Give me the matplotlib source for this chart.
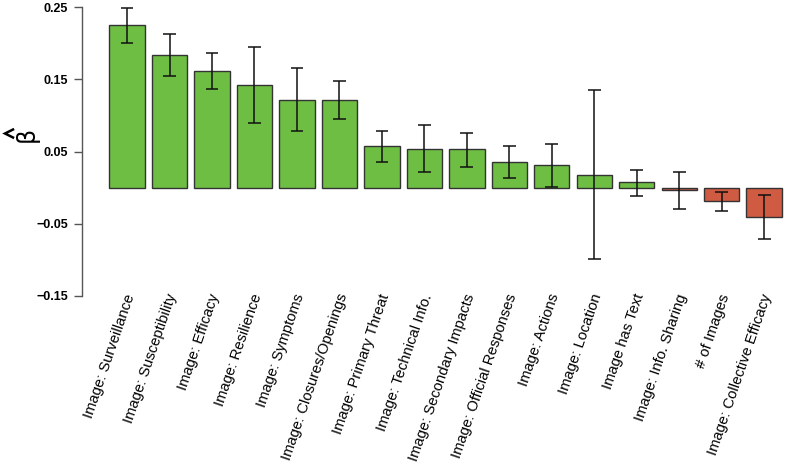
import matplotlib
matplotlib.use("Agg")
import matplotlib.pyplot as plt
import matplotlib.transforms as mtransforms
from matplotlib.lines import Line2D
import numpy as np

plt.rcParams['font.family'] = ['Liberation Sans', 'DejaVu Sans']

categories = ["Image: Surveillance", "Image: Susceptibility", "Image: Efficacy",
              "Image: Resilience", "Image: Symptoms", "Image: Closures/Openings",
              "Image: Primary Threat", "Image: Technical Info.", "Image: Secondary Impacts",
              "Image: Official Responses", "Image: Actions", "Image: Location",
              "Image has Text", "Image: Info. Sharing", "# of Images",
              "Image: Collective Efficacy"]
estimates = [0.225, 0.184, 0.161, 0.142, 0.121, 0.121, 0.057, 0.054, 0.053,
             0.036, 0.031, 0.018, 0.008, -0.003, -0.019, -0.041]
ci_upper = [0.248, 0.213, 0.186, 0.195, 0.165, 0.147, 0.078, 0.086, 0.075,
            0.057, 0.061, 0.135, 0.025, 0.022, -0.0065, -0.010]
ci_lower = [0.200, 0.154, 0.136, 0.090, 0.078, 0.095, 0.036, 0.022, 0.028,
            0.014, 0.001, -0.099, -0.011, -0.030, -0.032, -0.071]
yticks = [-0.15, -0.05, 0.05, 0.15, 0.25]

green = '#6EBE44'
red = '#D05B43'

W, H = 785, 470
fig = plt.figure(figsize=(W / 100, H / 100), dpi=100)
ax = fig.add_axes([82/W, 1-296/H, 1-82/W, (296-7)/H])

x = np.arange(len(categories))
est = np.array(estimates)
colors = [green if v >= 0 else red for v in est]
ax.bar(x, est, width=0.833, color=colors, edgecolor='#333333', linewidth=1.0, zorder=2)
ax.vlines(x, ci_lower, ci_upper, color='#111111', linewidth=1.1, zorder=3, clip_on=False)
capw = 0.15
ax.hlines(ci_upper, x - capw, x + capw, color='#111111', linewidth=1.1, zorder=3, clip_on=False)
ax.hlines(ci_lower, x - capw, x + capw, color='#111111', linewidth=1.1, zorder=3, clip_on=False)

ax.set_xlim(-1.06, 15.49)
ax.set_ylim(-0.15, 0.25)
ax.set_yticks(yticks)
ax.set_yticklabels([f"{t:.2f}".replace('-', '\u2212') for t in yticks], fontweight='bold', fontsize=9)
ax.tick_params(axis='y', length=6, width=1, color='#555555', pad=4)
for s in ['top', 'right', 'bottom']:
    ax.spines[s].set_visible(False)
ax.spines['left'].set_color('#555555')
ax.spines['left'].set_linewidth(1)

ax.set_xticks(x)
ax.set_xticklabels(categories, rotation=71, ha='right', rotation_mode='anchor', fontsize=10.6)
ax.tick_params(axis='x', length=0, pad=-3)
offset = mtransforms.ScaledTranslation(-3/100, 0, fig.dpi_scale_trans)
for lbl in ax.get_xticklabels():
    lbl.set_transform(lbl.get_transform() + offset)

# y-axis label: upright beta, with its hat drawn as a caret to the left (rotated label)
fig.text(27/W, 1-134/H, '\u03b2', rotation=90, fontsize=17, ha='center', va='center',
         family=['DejaVu Sans'])
fig.add_artist(Line2D([13/W, 5/W, 13/W], [1-129.5/H, 1-133.5/H, 1-137.5/H],
                      transform=fig.transFigure, color='black', linewidth=1.8,
                      solid_joinstyle='miter'))

fig.savefig('out.png', dpi=100)
